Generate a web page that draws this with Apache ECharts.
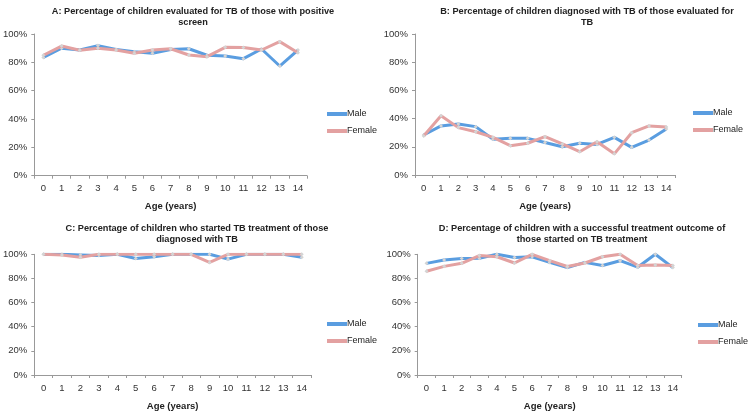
<!DOCTYPE html>
<html><head><meta charset="utf-8">
<script src="https://cdn.jsdelivr.net/npm/echarts@6/dist/echarts.min.js"></script>
<style>html,body{margin:0;padding:0;background:#fff}#c{width:750px;height:412px}</style>
</head><body><div id="c"></div>
<script>
const ages = ['0','1','2','3','4','5','6','7','8','9','10','11','12','13','14'];
const seriesNames = ['Male','Female'];
const titlesA = 'A: Percentage of children evaluated for TB of those with positive\nscreen';
const titlesB = 'B: Percentage of children diagnosed with TB of those evaluated for\nTB';
const titlesC = 'C: Percentage of children who started TB treatment of those\ndiagnosed with TB';
const titlesD = 'D: Percentage of children with a successful treatment outcome of\nthose started on TB treatment';
const xAxisName = 'Age (years)';

const maleA   = [83.5, 90, 88.7, 91.8, 89, 87.5, 86.4, 89, 89.6, 85, 84.5, 82.6, 89.4, 77.4, 88.7];
const femaleA = [85, 91.5, 88.5, 90, 88.7, 86.4, 88.7, 89.6, 85.2, 84, 90.6, 90.4, 88.7, 94.6, 86.8];
const maleB   = [28.4, 34.8, 36.2, 34.3, 25.3, 26, 26, 23, 20, 22.5, 21.7, 26.7, 19.6, 24.8, 32.6];
const femaleB = [27.7, 42, 33.6, 30.7, 26.7, 20.8, 22.5, 27.2, 22, 16.5, 23.6, 15, 30, 34.8, 34];
const maleC   = [100, 100, 99.5, 99, 100, 96.5, 98, 100, 100, 100, 96, 100, 100, 100, 97.5];
const femaleC = [100, 99.5, 97.6, 100, 100, 100, 100, 100, 100, 93.3, 100, 100, 100, 100, 100];
const maleD   = [92.5, 95.2, 96.5, 96.8, 100, 97.3, 98, 93.3, 89, 93.3, 90.7, 94.7, 89.3, 100, 89];
const femaleD = [86, 90, 92.5, 99, 98, 92.8, 100, 94.7, 89.9, 92.8, 98, 100, 90.7, 91.2, 90.7];

const BLUE = '#5a9de0', PINK = '#e3a1a1';
const FONT = 'Arial, "Liberation Sans", sans-serif';

const panels = [
  {title: titlesA, tx: 188, ty: 0.5, grid: {left: 32, top: 34, width: 275, height: 141.7}, leg: {left: 327, top: 108}, male: maleA, female: femaleA},
  {title: titlesB, tx: 582, ty: 0.5, grid: {left: 415, top: 34, width: 260, height: 141}, leg: {left: 693, top: 107}, male: maleB, female: femaleB},
  {title: titlesC, tx: 192, ty: 218, grid: {left: 31, top: 254.3, width: 280, height: 124}, leg: {left: 327, top: 318}, male: maleC, female: femaleC},
  {title: titlesD, tx: 577, ty: 218, grid: {left: 417.7, top: 254.3, width: 264, height: 125}, leg: {left: 698, top: 319}, male: maleD, female: femaleD}
];

const option = {
  animation: false,
  backgroundColor: '#fff',
  title: [], grid: [], xAxis: [], yAxis: [], series: [], legend: []
};

panels.forEach((p, i) => {
  option.title.push({
    text: p.title, left: p.tx, top: p.ty, textAlign: 'center',
    textStyle: {fontFamily: FONT, fontSize: 9.2, fontWeight: 'bold', color: '#222', lineHeight: 11, align: 'center'}
  });
  option.grid.push(Object.assign({containLabel: false}, p.grid));
  option.xAxis.push({
    type: 'category', gridIndex: i, data: ages, boundaryGap: true,
    name: xAxisName, nameLocation: 'middle', nameGap: 26,
    nameTextStyle: {fontFamily: FONT, fontSize: 9.5, fontWeight: 'bold', color: '#222'},
    axisLine: {lineStyle: {color: '#999', width: 1}},
    axisTick: {show: true, length: 3, alignWithLabel: false, lineStyle: {color: '#999'}},
    axisLabel: {fontFamily: FONT, fontSize: 9.5, color: '#333', margin: 8, interval: 0}
  });
  option.yAxis.push({
    type: 'value', gridIndex: i, min: 0, max: 100, interval: 20,
    axisLine: {show: true, lineStyle: {color: '#999', width: 1}},
    axisTick: {show: true, length: 3, lineStyle: {color: '#999'}},
    splitLine: {show: false},
    axisLabel: {fontFamily: FONT, fontSize: 9.5, color: '#333', margin: 7, formatter: '{value}%'}
  });
  [[seriesNames[0], p.male, BLUE], [seriesNames[1], p.female, PINK]].forEach(([name, data, col]) => {
    option.series.push({
      type: 'line', name: name, xAxisIndex: i, yAxisIndex: i, data: data,
      symbol: 'diamond', symbolSize: 4, showSymbol: true,
      lineStyle: {color: col, width: 3},
      itemStyle: {color: '#d4d4d4', borderWidth: 0},
      z: name === 'Female' ? 3 : 2
    });
  });
  option.legend.push({
    orient: 'vertical', left: p.leg.left, top: p.leg.top, padding: 0,
    itemWidth: 20, itemHeight: 4, itemGap: 5, icon: 'rect',
    textStyle: {fontFamily: FONT, fontSize: 9, color: '#222', lineHeight: 12, padding: [0, 0, 0, -5]},
    data: [
      {name: seriesNames[0], itemStyle: {color: BLUE}},
      {name: seriesNames[1], itemStyle: {color: PINK}}
    ],
    selectedMode: false
  });
});

const chart = echarts.init(document.getElementById('c'), null, {renderer: 'canvas'});
chart.setOption(option);
</script></body></html>
